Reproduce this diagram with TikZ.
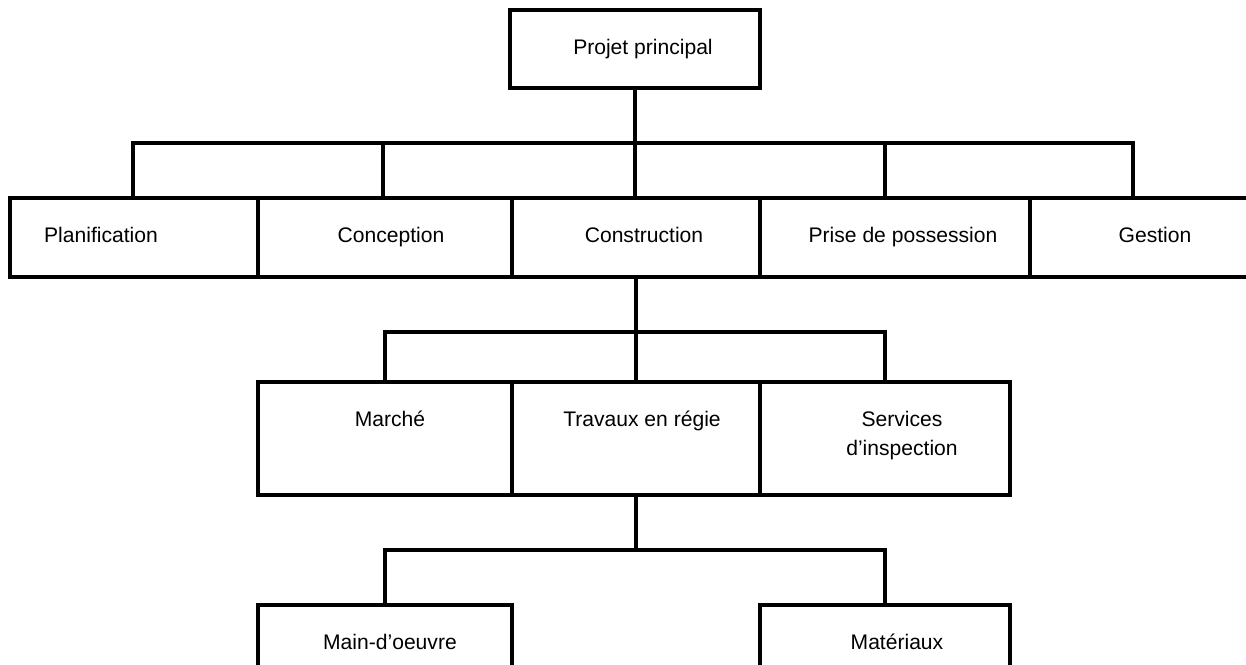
\documentclass[tikz,border=0pt]{standalone}
\usepackage{fontspec}
\setmainfont{Liberation Sans}
\usetikzlibrary{positioning}

\tikzset{
  box/.style={draw=black, line width=2.2pt, anchor=north west, inner sep=0pt, outer sep=0pt},
  lbl/.style={anchor=north, inner sep=0pt, align=center, font=\fontsize{12}{16.5}\selectfont},
  link/.style={draw=black, line width=2.2pt},
}

\begin{document}
\begin{tikzpicture}[x=0.02cm, y=-0.02cm]
\useasboundingbox (0,0) rectangle (1246,665);

% top
\node[box, minimum width=5cm, minimum height=1.56cm] (main) at (510,10) {};
\node[lbl] (tmain) at ([xshift=0.16cm, yshift=-0.58cm]main.north) {Projet principal};

% phases
\node[box, minimum width=4.96cm, minimum height=1.58cm] (plan) at (10,198) {};
\node[box, minimum width=5.08cm, minimum height=1.58cm] (conc) at (258,198) {};
\node[box, minimum width=4.96cm, minimum height=1.58cm] (cons) at (512,198) {};
\node[box, minimum width=5.4cm, minimum height=1.58cm] (prise) at (760,198) {};
\node[box, minimum width=4.8cm, minimum height=1.58cm] (gest) at (1030,198) {};

\node[lbl] (tplan) at ([xshift=-0.66cm, yshift=-0.58cm]plan.north) {Planification};
\node[lbl] (tconc) at ([xshift=0.12cm, yshift=-0.58cm]conc.north) {Conception};
\node[lbl] (tcons) at ([xshift=0.16cm, yshift=-0.58cm]cons.north) {Construction};
\node[lbl] (tprise) at ([xshift=0.16cm, yshift=-0.58cm]prise.north) {Prise de possession};
\node[lbl] (tgest) at ([xshift=0.1cm, yshift=-0.58cm]gest.north) {Gestion};

% construction
\node[box, minimum width=5.08cm, minimum height=2.26cm] (mar) at (258,382) {};
\node[box, minimum width=4.96cm, minimum height=2.26cm] (trav) at (512,382) {};
\node[box, minimum width=5cm, minimum height=2.26cm] (serv) at (760,382) {};

\node[lbl] (tmar) at ([xshift=0.1cm, yshift=-0.58cm]mar.north) {Marché};
\node[lbl] (ttrav) at ([xshift=0.12cm, yshift=-0.58cm]trav.north) {Travaux en régie};
\node[lbl] (tserv) at ([xshift=0.34cm, yshift=-0.58cm]serv.north) {Services\\d’inspection};

% travaux en regie
\node[box, minimum width=5.08cm, minimum height=2cm] (mo) at (258,605) {};
\node[box, minimum width=5cm, minimum height=2cm] (mat) at (760,605) {};

\node[lbl] (tmo) at ([xshift=0.1cm, yshift=-0.58cm]mo.north) {Main-d’oeuvre};
\node[lbl] (tmat) at ([xshift=0.24cm, yshift=-0.58cm]mat.north) {Matériaux};

% links
\foreach \x/\b in {133/plan,383/conc,635/cons,885/prise,1133/gest}
  \draw[link] (main.south) -- ++(0,55) -| (\x,143 |- \b.north);
\foreach \b in {mar,trav,serv}
  \draw[link] (cons.south) -- ++(0,55) -| (\b.north);
\foreach \b in {mo,mat}
  \draw[link] (trav.south) -- ++(0,55) -| (\b.north);

\end{tikzpicture}
\end{document}
